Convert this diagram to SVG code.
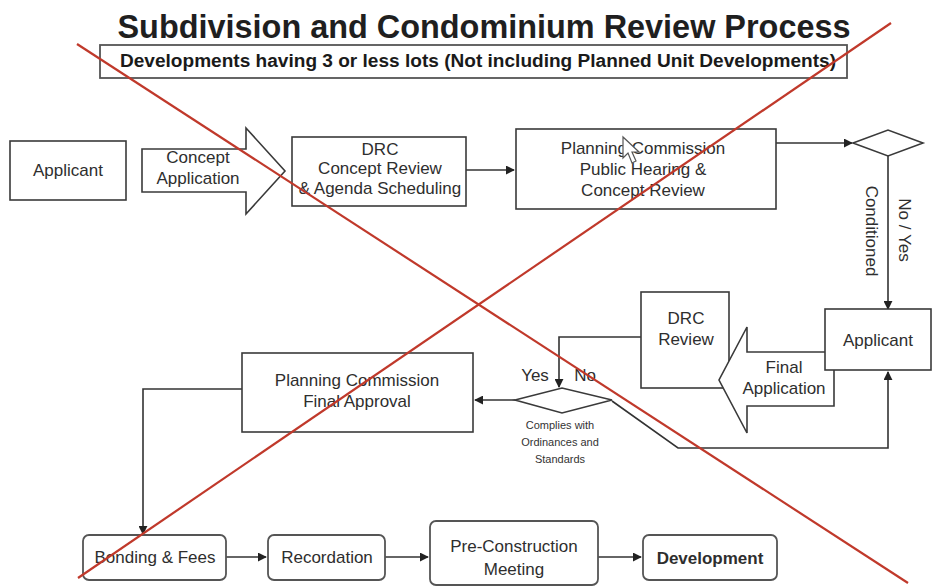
<svg xmlns="http://www.w3.org/2000/svg" width="934" height="586" viewBox="0 0 934 586">
<defs>
<marker id="ah" viewBox="0 0 10 10" refX="9" refY="5" markerWidth="9" markerHeight="9" markerUnits="userSpaceOnUse" orient="auto">
<path d="M0,0 L10,5 L0,10 z" fill="#222"/>
</marker>
<style>
.box{fill:#fff;stroke:#3a3a3a;stroke-width:1.6}
.rbox{fill:#fff;stroke:#555;stroke-width:1.8}
.t{font-family:"Liberation Sans",Arial,sans-serif;font-size:17px;fill:#2e2e2e;text-anchor:middle}
.s{font-family:"Liberation Sans",Arial,sans-serif;font-size:11px;fill:#333;text-anchor:middle}
.c{fill:none;stroke:#333;stroke-width:1.6}
.x{stroke:#c0392b;stroke-width:2.2;fill:none}
</style>
</defs>
<rect width="934" height="586" fill="#fff"/>

<g id="title">
<text x="484" y="38" font-family="Liberation Sans,Arial,sans-serif" font-size="33" font-weight="bold" fill="#1f1f1f" text-anchor="middle" textLength="733" lengthAdjust="spacingAndGlyphs">Subdivision and Condominium Review Process</text>
</g>
<g id="subtitle">
<rect x="100" y="45" width="747" height="33" fill="#fff" stroke="#555" stroke-width="1.8"/>
<text x="478" y="67" font-family="Liberation Sans,Arial,sans-serif" font-size="18" font-weight="bold" fill="#1a1a1a" text-anchor="middle" textLength="716" lengthAdjust="spacingAndGlyphs">Developments having 3 or less lots (Not including Planned Unit Developments)</text>
</g>

<g id="connectors">
<line class="c" x1="466" y1="170" x2="514" y2="170" marker-end="url(#ah)"/>
<line class="c" x1="776" y1="143" x2="852" y2="143" marker-end="url(#ah)"/>
<line class="c" x1="888" y1="156" x2="888" y2="309" marker-end="url(#ah)"/>
<path class="c" d="M641,337 H559 V387" marker-end="url(#ah)"/>
<line class="c" x1="515" y1="400" x2="475" y2="400" marker-end="url(#ah)"/>
<path class="c" d="M612,401 L678,448 H888 V372" marker-end="url(#ah)"/>
<path class="c" d="M242,389 H143 V534" marker-end="url(#ah)"/>
<line class="c" x1="226" y1="557" x2="266" y2="557" marker-end="url(#ah)"/>
<line class="c" x1="385" y1="557" x2="428" y2="557" marker-end="url(#ah)"/>
<line class="c" x1="598" y1="557" x2="641" y2="557" marker-end="url(#ah)"/>
<text class="t" transform="translate(899,230) rotate(90)">No / Yes</text>
<text class="t" transform="translate(866,231) rotate(90)">Conditioned</text>
<text class="t" x="535" y="381" font-size="15">Yes</text>
<text class="t" x="585" y="381" font-size="15">No</text>
</g>

<g id="applicant1">
<rect class="box" x="10" y="141" width="116" height="59"/>
<text class="t" x="68" y="176">Applicant</text>
</g>

<g id="concept-application">
<path class="box" d="M142,149 H246 V128 L285,171 L246,214 V192 H142 Z"/>
<text class="t" x="198" y="163">Concept</text>
<text class="t" x="198" y="184">Application</text>
</g>

<g id="drc-concept">
<rect class="box" x="292" y="137" width="174" height="69"/>
<text class="t" x="380" y="155">DRC</text>
<text class="t" x="380" y="174">Concept Review</text>
<text class="t" x="380" y="194">&amp; Agenda Scheduling</text>
</g>

<g id="pc-hearing">
<rect class="box" x="516" y="129" width="260" height="80"/>
<text class="t" x="643" y="154">Planning Commission</text>
<text class="t" x="643" y="175">Public Hearing &amp;</text>
<text class="t" x="643" y="196">Concept Review</text>
<path d="M623,137 L623,158 L628,153 L632,163 L636,161 L632,152 L639,152 Z" fill="#fff" stroke="#555" stroke-width="1.2"/>
</g>

<g id="decision1">
<polygon class="box" points="853,143 888,130 923,143 888,156"/>
</g>

<g id="drc-review">
<rect class="box" x="641" y="292" width="88" height="96"/>
<text class="t" x="686" y="324">DRC</text>
<text class="t" x="686" y="345">Review</text>
</g>

<g id="final-application">
<path class="box" d="M834,352 H747 V327 L719,380 L747,433 V406 H834 Z"/>
<text class="t" x="784" y="373">Final</text>
<text class="t" x="784" y="394">Application</text>
</g>

<g id="applicant2">
<rect class="box" x="825" y="309" width="106" height="61"/>
<text class="t" x="878" y="346">Applicant</text>
</g>

<g id="decision2">
<polygon class="box" points="515,400 562,388 612,400 562,413"/>
<text class="s" x="560" y="429">Complies with</text>
<text class="s" x="560" y="446">Ordinances and</text>
<text class="s" x="560" y="463">Standards</text>
</g>

<g id="pc-final">
<rect class="box" x="242" y="353" width="231" height="79"/>
<text class="t" x="357" y="386">Planning Commission</text>
<text class="t" x="357" y="407">Final Approval</text>
</g>

<g id="bonding">
<rect class="rbox" x="83" y="535" width="143" height="45" rx="6"/>
<text class="t" x="155" y="563">Bonding &amp; Fees</text>
</g>
<g id="recordation">
<rect class="rbox" x="268" y="535" width="117" height="45" rx="6"/>
<text class="t" x="327" y="563">Recordation</text>
</g>
<g id="preconstruction">
<rect class="rbox" x="430" y="521" width="168" height="64" rx="6"/>
<text class="t" x="514" y="552">Pre-Construction</text>
<text class="t" x="514" y="575">Meeting</text>
</g>
<g id="development">
<rect class="rbox" x="643" y="535" width="134" height="45" rx="6"/>
<text class="t" x="710" y="564" font-size="19" font-weight="bold" fill="#1a1a1a">Development</text>
</g>

<g id="cross">
<line class="x" x1="77" y1="44" x2="908" y2="583"/>
<line class="x" x1="891" y1="23" x2="78" y2="578"/>
</g>
</svg>
